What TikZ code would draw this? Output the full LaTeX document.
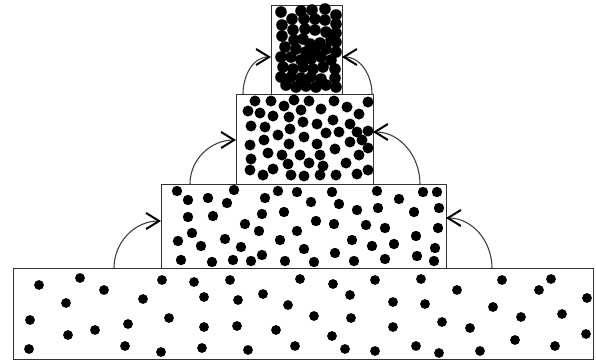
\documentclass[tikz,border=0pt]{standalone}
\usepackage{tikz}
\usetikzlibrary{arrows.meta}

\begin{document}
\begin{tikzpicture}[
    x=0.5pt, y=-0.5pt,
    layer/.style={rectangle, draw=black!80, line width=0.7pt, inner sep=0pt, anchor=north west},
    grain/.style={fill=black},
    climb/.style={->, >={Straight Barb[length=6.5pt, width=8pt, line width=1pt, color=black]}, draw=black!75, line width=0.55pt}
]
    \useasboundingbox (0,0) rectangle (596,360);

    % layers, widest at the bottom
    \node[layer, minimum width=290pt, minimum height=45.5pt] (b4) at (13,268) {};
    \node[layer, minimum width=142.5pt, minimum height=42pt] (b3) at (161,184) {};
    \node[layer, minimum width=68.5pt, minimum height=45pt] (b2) at (236,94) {};
    \node[layer, minimum width=35.5pt, minimum height=44.5pt] (b1) at (271,5) {};

    % grains in the bottom layer
    \foreach \x/\y in {39/285, 80/278, 104/290, 66/303, 162/280, 194/282, 204/297, 143/299,
        30/320, 169/318, 128/324, 95/330, 68/335, 204/327, 29/349, 125/346, 161/352, 202/348,
        230/280, 300/279, 333/284, 375/280, 238/300, 263/294, 288/305, 350/295, 393/302,
        237/326, 276/330, 314/316, 351/318, 393/327, 332/336, 248/350, 295/346, 345/349, 375/351,
        421/279, 457/290, 502/280, 551/279, 539/290, 587/298, 425/304, 493/307, 521/317, 562/314,
        442/322, 470/328, 515/340, 586/334, 416/346, 439/353, 480/351, 555/346}
        \fill[grain] (\x,\y) circle [radius=2.45pt];

    % grains in the third layer
    \foreach \x/\y in {177/191, 188/200, 208/198, 234/190, 227/203, 265/198, 278/191, 297/192,
        188/217, 213/216, 262/214, 284/212, 245/224, 259/231, 297/231, 192/233, 178/241, 201/246,
        225/239, 241/247, 280/240, 181/260, 212/262, 233/260, 251/261, 262/255, 285/261, 304/249,
        332/192, 377/191, 399/199, 423/192, 437/192, 311/202, 339/204, 357/210, 378/208, 414/212,
        439/208, 316/221, 334/224, 366/225, 385/228, 438/228, 352/240, 372/246, 394/244, 416/236,
        335/253, 435/248, 314/262, 354/261, 385/259, 417/256, 434/261}
        \fill[grain] (\x,\y) circle [radius=2.6pt];

    % grains in the second layer
    \foreach \x/\y in {255/101, 271/101, 284/106, 294/100, 309/101, 334/101, 368/102, 248/111,
        260/113, 273/116, 289/117, 301/110, 321/109, 347/107, 359/114, 251/126, 265/127, 290/129,
        303/122, 317/124, 333/120, 350/124, 278/135, 304/137, 326/133, 339/132, 357/132, 368/131,
        250/145, 264/140, 289/144, 317/144, 350/142, 362/140, 335/149, 368/148, 251/159, 268/153,
        282/155, 300/155, 320/155, 359/155, 288/164, 309/163, 323/166, 346/163, 250/170, 273/169,
        368/170, 263/175, 291/175, 304/176, 320/175, 336/175, 357/174}
        \fill[grain] (\x,\y) circle [radius=2.75pt];

    % grains in the top layer
    \foreach \x/\y in {281/12, 301/11, 312/10, 325/9, 336/15, 282/25, 292/19, 304/19, 315/19,
        325/20, 336/24, 282/36, 293/30, 305/29, 315/30, 326/32, 336/33, 294/40, 303/39, 310/44,
        320/43, 331/40, 336/42, 285/47, 296/49, 306/52, 315/50, 326/49, 336/52, 281/57, 291/57,
        301/60, 311/59, 321/57, 331/60, 283/67, 293/69, 303/67, 313/69, 323/67, 335/69, 281/77,
        291/77, 301/78, 311/77, 321/79, 335/78, 286/85, 296/87, 306/86, 316/87, 326/85, 336/87}
        \fill[grain] (\x,\y) circle [radius=2.9pt];

    % where the arrows start and end
    \coordinate (s4l) at (114,268);  \coordinate (e3l) at (161,221);
    \coordinate (s4r) at (492,268);  \coordinate (e3r) at (446,218);
    \coordinate (s3l) at (190,184);  \coordinate (e2l) at (236,140);
    \coordinate (s3r) at (420,184);  \coordinate (e2r) at (373,132);
    \coordinate (s2l) at (243,94);   \coordinate (e1l) at (271,57);
    \coordinate (s2r) at (372,94);   \coordinate (e1r) at (342,57);

    \draw[climb] (s4l) to[out=90, in=180] (e3l);
    \draw[climb] (s4r) to[out=90, in=0] (e3r);
    \draw[climb] (s3l) to[out=90, in=180] (e2l);
    \draw[climb] (s3r) to[out=90, in=0] (e2r);
    \draw[climb] (s2l) to[out=90, in=180] (e1l);
    \draw[climb] (s2r) to[out=90, in=0] (e1r);
\end{tikzpicture}
\end{document}
